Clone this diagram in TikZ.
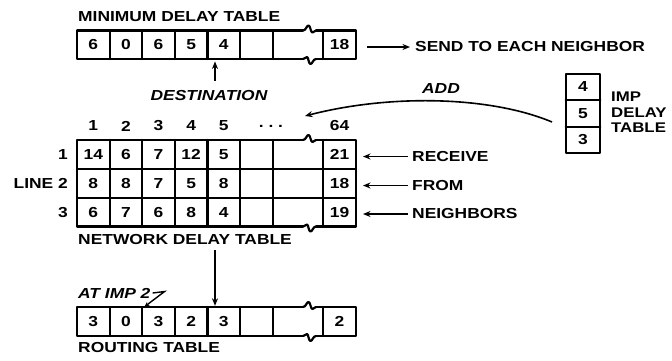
\documentclass[tikz,border=0pt]{standalone}
\usepackage{fontspec}
\setmainfont{Liberation Sans}[FakeStretch=1.2]
\usetikzlibrary{arrows.meta}
\newcommand\mytab[2]{%
  \draw[tbl] (303,#1) -- (77,#1) -- (77,#2) -- (303,#2);
  \draw[tbl] (316,#1) -- (356,#1) -- (356,#2) -- (316,#2);
  \draw[tbl] (303,#1) .. controls (306,#1) and (306.5,#1-5) .. (308.5,#1-5)
     .. controls (310.5,#1-5) and (310.5,#1+2) .. (312.5,#1+2)
     .. controls (314,#1+2) and (314.5,#1) .. (316,#1);
  \draw[tbl] (303,#2) .. controls (305,#2) and (305.5,#2-2) .. (307,#2-2)
     .. controls (308.5,#2-2) and (308.5,#2+5) .. (310.5,#2+5)
     .. controls (312.5,#2+5) and (313,#2) .. (316,#2);
  \foreach \xx in {109.6,142.2,174.8,207.4,240,272.6,323}
    \draw[tbl] (\xx,#1) -- (\xx,#2);
}
\begin{document}
\begin{tikzpicture}[x=1pt,y=-1pt,
  tbl/.style={line width=2.2pt, line join=round, line cap=round},
  cell/.style={minimum width=32.6pt, minimum height=29pt, inner sep=0pt,
    font=\bfseries\fontsize{14.5}{16}\selectfont},
  lbl/.style={inner sep=0pt, font=\bfseries\fontsize{14.5}{17}\selectfont},
  ilbl/.style={inner sep=0pt, font=\bfseries\itshape\fontsize{14.5}{17}\selectfont},
  arr/.style={line width=1.6pt, -{Stealth[length=7.5pt,width=6pt]}},
]
\useasboundingbox (0,0) rectangle (672,360);

% ---------- minimum delay table ----------
\node[lbl, anchor=west] (mintitle) at (78,17) {MINIMUM DELAY TABLE};
\mytab{30.5}{59}
\foreach \v [count=\i] in {6,0,6,5,4}
  \node[cell] (m\i) at ({77+32.6*(\i-0.5)},44.75) {\v};
\node[cell] (m64) at (339.5,44.75) {18};
\node[lbl, anchor=west] (send) at (415,47) {SEND TO EACH NEIGHBOR};
\draw[arr, shorten <=11pt, shorten >=5pt] (send.west -| m64.east) -- (send.west);

\node[ilbl] (dest) at (209,96) {DESTINATION};
\coordinate (dtail) at (215,81);
\draw[arr, shorten >=2pt] (dtail) -- (dtail |- m5.south);

% ---------- IMP delay table ----------
\node[cell, minimum width=34pt, minimum height=26.3pt] (i1) at (583,87) {4};
\node[cell, minimum width=34pt, minimum height=26.3pt] (i2) at (583,113.5) {5};
\node[cell, minimum width=34pt, minimum height=26.3pt] (i3) at (583,140) {3};
\draw[tbl] (i1.north west) rectangle (i3.south east);
\draw[tbl] (i1.south west) -- (i1.south east);
\draw[tbl] (i2.south west) -- (i2.south east);
\node[lbl, anchor=west, align=left, font=\bfseries\fontsize{14}{15.5}\selectfont]
  (imptxt) at (611,112.5) {IMP\\DELAY\\TABLE};

\node[ilbl] (add) at (441,89) {ADD};
\coordinate (addstart) at (552,122);
\coordinate (addend) at (305,116);
\draw[arr] (addstart) .. controls (490,96) and (390,94) .. (addend);

% ---------- network delay table ----------
\foreach \i in {1,...,5}
  \node[lbl] (h\i) at ({77+32.6*(\i-0.5)},126) {\i};
\node[lbl] (hdots) at (271,126) {.\,\,.\,\,.};
\node[lbl] (h64) at (339.5,126) {64};

\mytab{140}{226.5}
\draw[tbl] (77,169) -- (356,169);
\draw[tbl] (77,198) -- (356,198);

\foreach \v [count=\i] in {14,6,7,12,5}
  \node[cell] (a\i) at ({77+32.6*(\i-0.5)},154.5) {\v};
\node[cell] (a64) at (339.5,154.5) {21};
\foreach \v [count=\i] in {8,8,7,5,8}
  \node[cell] (b\i) at ({77+32.6*(\i-0.5)},183.5) {\v};
\node[cell] (b64) at (339.5,183.5) {18};
\foreach \v [count=\i] in {6,7,6,8,4}
  \node[cell] (c\i) at ({77+32.6*(\i-0.5)},212.25) {\v};
\node[cell] (c64) at (339.5,212.25) {19};

\node[lbl, anchor=east] (l1) at (68,154.5) {1};
\node[lbl, anchor=east] (l2) at (68,183.5) {LINE 2};
\node[lbl, anchor=east] (l3) at (68,212.25) {3};

\node[lbl, anchor=west] (recv) at (412,156.5) {RECEIVE};
\node[lbl, anchor=west] (from) at (412,185.5) {FROM};
\node[lbl, anchor=west] (neigh) at (412,214) {NEIGHBORS};
\draw[arr, shorten <=4pt, shorten >=7pt] (recv.west) -- (recv.west -| a64.east);
\draw[arr, shorten <=4pt, shorten >=7pt] (from.west) -- (from.west -| b64.east);
\draw[arr, shorten <=4pt, shorten >=7pt] (neigh.west) -- (neigh.west -| c64.east);

\node[lbl, anchor=west] (nettitle) at (78,240) {NETWORK DELAY TABLE};

% ---------- routing table ----------
\coordinate (ntail) at (215,250);
\mytab{307}{336}
\foreach \v [count=\i] in {3,0,3,2,3}
  \node[cell] (r\i) at ({77+32.6*(\i-0.5)},321.5) {\v};
\node[cell] (r64) at (339.5,321.5) {2};
\draw[arr, shorten >=1pt] (ntail) -- (ntail |- r1.north);

\node[ilbl, anchor=west] (atimp) at (78,293) {AT IMP 2};
\draw[line width=1.4pt, -{Stealth[length=5pt,width=4.5pt]}]
  ([xshift=2pt]atimp.east) -- ++(12,-1.5) -- ([xshift=2pt]r2.north east);

\node[lbl, anchor=west] (rtitle) at (78,347) {ROUTING TABLE};
\end{tikzpicture}
\end{document}
